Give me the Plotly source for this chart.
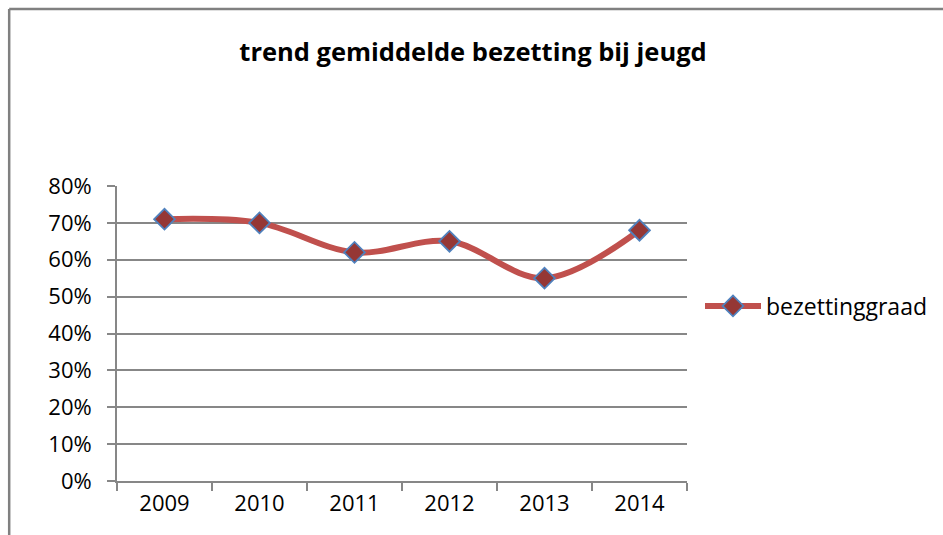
import plotly.graph_objects as go

years = ["2009", "2010", "2011", "2012", "2013", "2014"]
bezettinggraad = [0.71, 0.70, 0.62, 0.65, 0.55, 0.68]
y_ticks = [0, 0.1, 0.2, 0.3, 0.4, 0.5, 0.6, 0.7, 0.8]
series_name = "bezettinggraad"
title_text = "trend gemiddelde bezetting bij jeugd"

W, H = 943, 535
L, R, T, B = 117, 688, 186, 481

fig = go.Figure()
fig.add_trace(go.Scatter(
    x=years, y=bezettinggraad, name=series_name,
    mode="lines+markers",
    line=dict(color="#C0504D", width=6, shape="spline", smoothing=1),
    marker=dict(symbol="diamond", size=16, color="#953735",
                line=dict(color="#4F81BD", width=1.8)),
))

gray = "#878787"
font_family = "Open Sans, Lato, sans-serif"

def px_x(p):
    return (p - L) / (R - L)

def px_y(p):
    return (B - p) / (B - T)

fig.update_layout(
    width=W, height=H,
    margin=dict(l=L, r=W - R, t=T, b=H - B),
    paper_bgcolor="white", plot_bgcolor="white",
    font=dict(family=font_family, size=22, color="black"),
    title=dict(text="<b>" + title_text + "</b>", x=473 / W, xanchor="center",
               y=1 - 52 / H, yanchor="middle", yref="container",
               font=dict(size=25.5, family=font_family, color="black")),
    showlegend=True,
    legend=dict(x=px_x(700), y=px_y(306), xanchor="left", yanchor="middle",
                font=dict(size=23), bgcolor="rgba(0,0,0,0)", itemwidth=56),
    xaxis=dict(type="category", range=[-0.5, 5.5], tickson="boundaries",
               ticks="outside", ticklen=8, tickcolor=gray, tickwidth=1.8,
               showline=True, linecolor=gray, linewidth=1.8, showgrid=False,
               zeroline=False, tickfont=dict(size=22), fixedrange=True,
               ticklabelstandoff=2),
    yaxis=dict(range=[0, 0.8], tickvals=y_ticks, tickformat=".0%",
               ticks="outside", ticklen=8, tickcolor=gray, tickwidth=1.8,
               showline=True, linecolor=gray, linewidth=1.8,
               showgrid=True, gridcolor=gray, gridwidth=1.8, zeroline=False,
               tickfont=dict(size=22), ticklabelstandoff=11),
    shapes=[
        dict(type="line", xref="paper", yref="paper",
             x0=px_x(9), x1=px_x(9), y0=px_y(9), y1=px_y(560),
             line=dict(color="#808080", width=2.5)),
        dict(type="line", xref="paper", yref="paper",
             x0=px_x(9), x1=px_x(960), y0=px_y(9), y1=px_y(9),
             line=dict(color="#808080", width=2.5)),
    ],
)

fig.write_html("out.html", config={"displayModeBar": False},
               post_script="document.body.style.margin='0';document.body.style.overflow='hidden';")
